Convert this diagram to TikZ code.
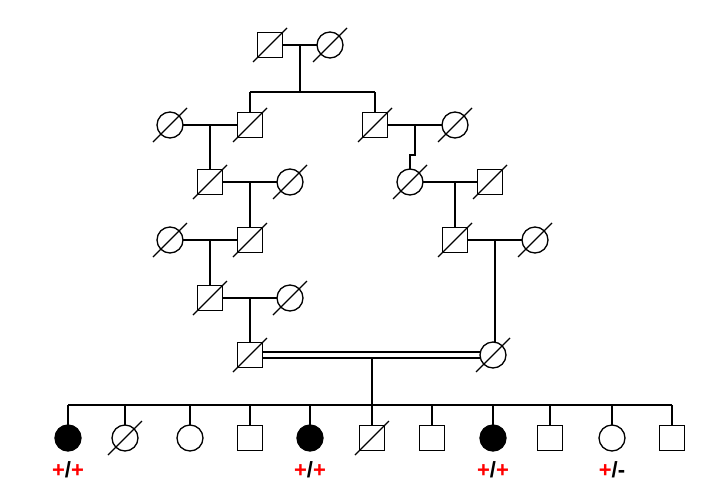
\documentclass[tikz,border=0pt]{standalone}
\usepackage{fontspec}
\setmainfont{Liberation Sans}
\begin{document}
\begin{tikzpicture}[x=1pt,y=-1pt,line width=1.3pt,
 sq/.style={draw,rectangle,minimum size=25pt,inner sep=0pt,fill=white},
 ci/.style={draw,circle,minimum size=26pt,inner sep=0pt,fill=white},
 aff/.style={fill=black},
 dead/.style={append after command={(\tikzlastnode.center)++(-17,17) edge[line width=1.3pt] ++(34,-34)}},
 lab/.style={font=\bfseries\fontsize{22}{24}\selectfont}]
\useasboundingbox (0,0) rectangle (706,498);
\def\rp{\textcolor{red}{+}}
% lines
\draw (270,45)--(330,45) (300,45)--(300,92) (250,92)--(375,92) (250,92)--(250,125) (375,92)--(375,125);
\draw (170,125)--(250,125) (210,125)--(210,182) (375,125)--(455,125) (415,125)--(415,155)--(410,155)--(410,182);
\draw (210,182)--(290,182) (250,182)--(250,240) (410,182)--(490,182) (455,182)--(455,240);
\draw (170,240)--(250,240) (210,240)--(210,298) (455,240)--(535,240) (495,240)--(495,355);
\draw (210,298)--(290,298) (250,298)--(250,355);
\draw (250,352)--(493,352) (250,358)--(493,358);
\draw (372,358)--(372,405) (68,405)--(672,405);
\foreach \x in {68,125,190,250,310,372,432,493,550,612,672} \draw (\x,405)--(\x,438);
% gen I
\node[sq,dead] (a1) at (270,45) {}; \node[ci,dead] (a2) at (330,45) {};
\node[ci,dead] (b1) at (170,125) {}; \node[sq,dead] (b2) at (250,125) {};
\node[sq,dead] (b3) at (375,125) {}; \node[ci,dead] (b4) at (455,125) {};
\node[sq,dead] (c1) at (210,182) {}; \node[ci,dead] (c2) at (290,182) {};
\node[ci,dead] (c3) at (410,182) {}; \node[sq,dead] (c4) at (490,182) {};
\node[ci,dead] (d1) at (170,240) {}; \node[sq,dead] (d2) at (250,240) {};
\node[sq,dead] (d3) at (455,240) {}; \node[ci,dead] (d4) at (535,240) {};
\node[sq,dead] (e1) at (210,298) {}; \node[ci,dead] (e2) at (290,298) {};
\node[sq,dead] (f1) at (250,355) {}; \node[ci,dead] (f2) at (493,355) {};
% children
\node[ci,aff] (k1) at (68,438) {};
\node[ci,dead] (k2) at (125,438) {};
\node[ci] (k3) at (190,438) {};
\node[sq] (k4) at (250,438) {};
\node[ci,aff] (k5) at (310,438) {};
\node[sq,dead] (k6) at (372,438) {};
\node[sq] (k7) at (432,438) {};
\node[ci,aff] (k8) at (493,438) {};
\node[sq] (k9) at (550,438) {};
\node[ci] (k10) at (612,438) {};
\node[sq] (k11) at (672,438) {};
\foreach \k in {k1,k5,k8} \node[lab] at ([yshift=-32]\k.center) {\rp/\rp};
\node[lab] at ([yshift=-32]k10.center) {\rp/-};
\end{tikzpicture}
\end{document}
